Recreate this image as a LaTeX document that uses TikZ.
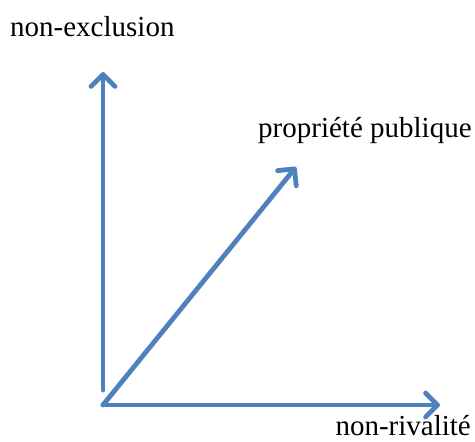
\documentclass[tikz,border=0pt]{standalone}
\usepackage{fontspec}
\setmainfont{Liberation Serif}
\usetikzlibrary{arrows.meta}
\definecolor{axisblue}{RGB}{79,129,189}

\begin{document}
\begin{tikzpicture}[x=1pt,y=1pt,
	axe/.style={line width=4.8pt,color=axisblue,line cap=round,line join=round,
		-{Straight Barb[length=12pt,width=24pt,line cap=round,line join=round]}},
	lab/.style={inner sep=0pt,font=\fontsize{29}{34}\selectfont}]
	\useasboundingbox (0,0) rectangle (475,442);
		\coordinate (o) at (103,37);
		\coordinate (ybas) at (103,52);
		\coordinate (yhaut) at (103,370);
		\coordinate (xfin) at (440,37);
		\coordinate (diag) at (296,275);
			\draw[axe] (ybas) -- (yhaut);
			\draw[axe] (o) -- (xfin);
			\draw[axe] (o) -- (diag);
				\node[lab,anchor=base west] (nonexcl) at (10,405) {non-exclusion};
				\node[lab,anchor=base west] (propr) at (258,304) {propriété publique};
				\node[lab,anchor=base east] (nonriv) at (471,6) {non-rivalité};
\end{tikzpicture}
\end{document}
